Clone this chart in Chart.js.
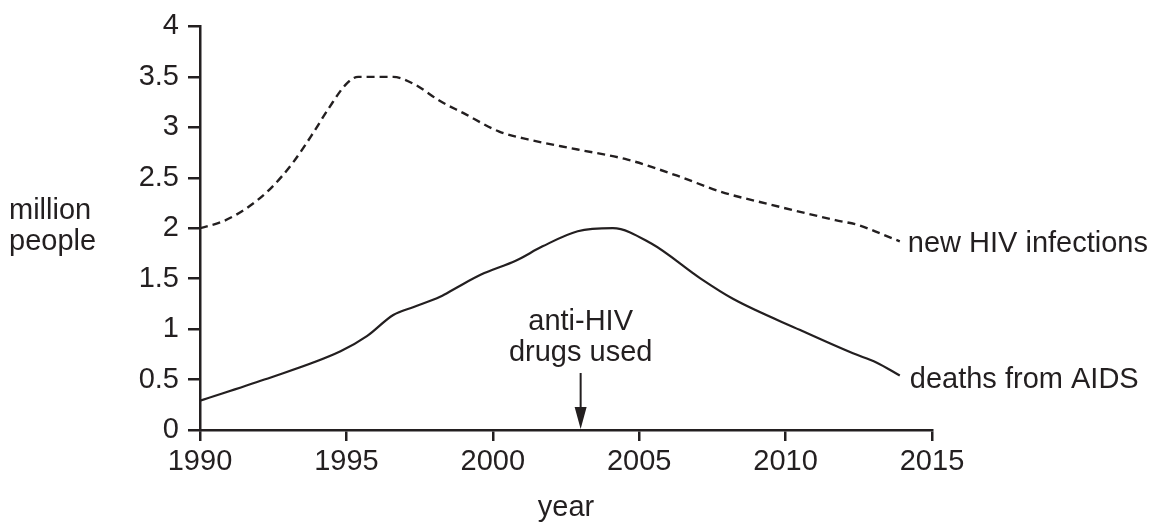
<!DOCTYPE html>
<html>
<head>
<meta charset="utf-8">
<script src="https://cdn.jsdelivr.net/npm/chart.js@4.4.1/dist/chart.umd.min.js"></script>
<style>
  html, body { margin: 0; padding: 0; background: #ffffff; }
  #wrap { width: 1157px; height: 529px; position: relative; }
</style>
</head>
<body>
<div id="wrap"><canvas id="c" width="1157" height="529"></canvas></div>
<script>
// ---- data ----
const infectionYears = [1990, 1990.8, 1991.6, 1992.4, 1993.2, 1993.9, 1994.4, 1995.0, 1995.4, 1996.6, 1997.3, 1998.2, 1999.0, 2000.2, 2001.2, 2002.9, 2004.6, 2006.3, 2007.8, 2009.4, 2011.7, 2012.5, 2013.3, 2013.9];
const newInfections = [2.0, 2.07, 2.2, 2.39, 2.66, 2.96, 3.19, 3.43, 3.5, 3.5, 3.43, 3.26, 3.14, 2.96, 2.88, 2.78, 2.68, 2.52, 2.36, 2.24, 2.08, 2.03, 1.94, 1.87];

const deathYears = [1990, 1992.2, 1994.8, 1995.7, 1996.6, 1997.3, 1998.2, 1998.7, 1999.6, 2000.8, 2001.7, 2002.9, 2004.1, 2005.4, 2007.1, 2008.2, 2010.5, 2012.3, 2013.1, 2013.9];
const deaths = [0.29, 0.5, 0.78, 0.93, 1.14, 1.22, 1.32, 1.40, 1.54, 1.68, 1.82, 1.97, 2.0, 1.85, 1.50, 1.30, 0.99, 0.76, 0.67, 0.54];

const xTickValues = [1990, 1995, 2000, 2005, 2010, 2015];
const yTickValues = [0, 0.5, 1, 1.5, 2, 2.5, 3, 3.5, 4];

const seriesLabels = ['new HIV infections', 'deaths from AIDS'];
const yAxisLabel = ['million', 'people'];
const xAxisLabel = 'year';
const annotationYear = 2003;
const annotationText = ['anti-HIV', 'drugs used'];

// ---- styling ----
const INK = '#231f20';
const FONT_FAMILY = '"Liberation Sans", Arial, Helvetica, sans-serif';
const FONT_SIZE = 29;

const toPoints = (xs, ys) => xs.map((x, i) => ({ x: x, y: ys[i] }));

const annotations = {
  id: 'annotations',
  afterDatasetsDraw(chart) {
    const ctx = chart.ctx;
    const xs = chart.scales.x, ys = chart.scales.y;
    ctx.save();
    ctx.fillStyle = INK;
    ctx.strokeStyle = INK;
    ctx.font = FONT_SIZE + 'px ' + FONT_FAMILY;

    // series end labels
    ctx.textAlign = 'left';
    ctx.textBaseline = 'middle';
    const nLast = newInfections.length - 1;
    ctx.fillText(seriesLabels[0],
      xs.getPixelForValue(infectionYears[nLast]) + 8,
      ys.getPixelForValue(newInfections[nLast]) + 3);
    const dLast = deaths.length - 1;
    ctx.fillText(seriesLabels[1],
      xs.getPixelForValue(deathYears[dLast]) + 10,
      ys.getPixelForValue(deaths[dLast]) + 4);

    // y-axis label (horizontal, left)
    ctx.textBaseline = 'alphabetic';
    ctx.fillText(yAxisLabel[0], 9, 219);
    ctx.fillText(yAxisLabel[1], 9, 250);

    // annotation text + arrow
    const ax = xs.getPixelForValue(annotationYear);
    ctx.textAlign = 'center';
    ctx.fillText(annotationText[0], ax, 330);
    ctx.fillText(annotationText[1], ax, 361);

    const base = ys.getPixelForValue(0);
    ctx.lineWidth = 2;
    ctx.beginPath();
    ctx.moveTo(ax, 373);
    ctx.lineTo(ax, base - 20);
    ctx.stroke();
    ctx.beginPath();
    ctx.moveTo(ax - 6, base - 23);
    ctx.lineTo(ax + 6, base - 23);
    ctx.lineTo(ax, base - 1);
    ctx.closePath();
    ctx.fill();
    ctx.restore();
  }
};

const tickFont = { family: FONT_FAMILY, size: FONT_SIZE };

new Chart(document.getElementById('c'), {
  type: 'line',
  data: {
    datasets: [
      {
        label: seriesLabels[0],
        data: toPoints(infectionYears, newInfections),
        borderColor: INK,
        borderWidth: 2.4,
        borderDash: [8, 5],
        pointRadius: 0,
        cubicInterpolationMode: 'monotone',
        fill: false
      },
      {
        label: seriesLabels[1],
        data: toPoints(deathYears, deaths),
        borderColor: INK,
        borderWidth: 2.2,
        pointRadius: 0,
        cubicInterpolationMode: 'monotone',
        fill: false
      }
    ]
  },
  options: {
    responsive: false,
    animation: false,
    events: [],
    layout: { padding: { top: 20, right: 225, left: 0, bottom: 0 } },
    plugins: { legend: { display: false }, tooltip: { enabled: false }, title: { display: false } },
    scales: {
      x: {
        type: 'linear',
        min: 1990, max: 2015,
        afterBuildTicks: (s) => { s.ticks = xTickValues.map(v => ({ value: v })); },
        afterFit: (s) => { s.height = 99; },
        border: { display: true, color: INK, width: 2.5 },
        grid: { drawOnChartArea: false, drawTicks: true, tickLength: 11, color: INK, lineWidth: 2.5 },
        ticks: { color: INK, font: tickFont, padding: 4, maxRotation: 0, callback: (v) => String(v) },
        title: { display: true, text: xAxisLabel, color: INK, font: tickFont, padding: { top: 0, bottom: 4 } }
      },
      y: {
        min: 0, max: 4,
        afterBuildTicks: (s) => { s.ticks = yTickValues.map(v => ({ value: v })); },
        afterFit: (s) => { s.width = 200; },
        border: { display: true, color: INK, width: 2.5 },
        grid: { drawOnChartArea: false, drawTicks: true, tickLength: 12, color: INK, lineWidth: 2.5 },
        ticks: { color: INK, font: tickFont, padding: 9, callback: (v) => String(v) }
      }
    }
  },
  plugins: [annotations]
});
</script>
</body>
</html>
